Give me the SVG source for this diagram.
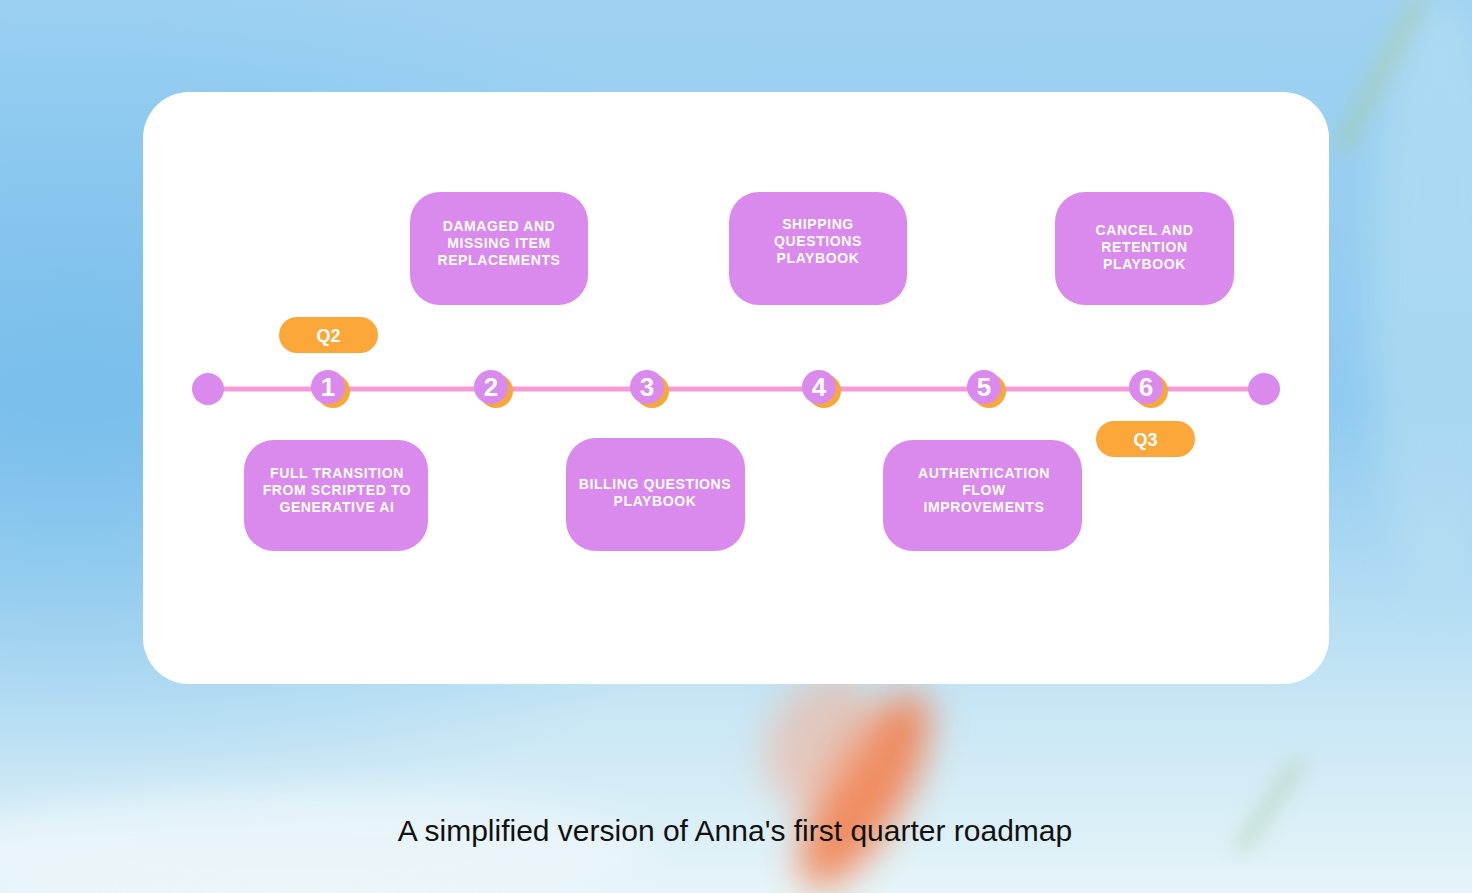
<svg xmlns="http://www.w3.org/2000/svg" width="1472" height="893" viewBox="0 0 1472 893">
<defs>
<linearGradient id="bg" x1="0" y1="0" x2="0" y2="1">
<stop offset="0" stop-color="#9fd2f2"/>
<stop offset="0.45" stop-color="#8fcaf0"/>
<stop offset="0.8" stop-color="#c9e7f5"/>
<stop offset="1" stop-color="#e6f4f8"/>
</linearGradient>
<radialGradient id="bl" cx="0.05" cy="0.45" r="0.5">
<stop offset="0" stop-color="#6fb9ea" stop-opacity="0.7"/>
<stop offset="1" stop-color="#6fb9ea" stop-opacity="0"/>
</radialGradient>
<filter id="blur" x="-50%" y="-50%" width="200%" height="200%"><feGaussianBlur stdDeviation="18"/></filter>
<filter id="blur2" x="-50%" y="-50%" width="200%" height="200%"><feGaussianBlur stdDeviation="10"/></filter>
<style>
.box{fill:#d98aec}
.bt{font-family:"Liberation Sans",Arial,sans-serif;font-weight:bold;font-size:14px;fill:#ffffff;text-anchor:middle;letter-spacing:0.6px}
.num{font-family:"Liberation Sans",Arial,sans-serif;font-weight:bold;font-size:26px;fill:#ffffff;text-anchor:middle}
.pill{fill:#fba73a}
.pt{font-family:"Liberation Sans",Arial,sans-serif;font-weight:bold;font-size:18px;fill:#ffffff;text-anchor:middle}
.dot{fill:#d98aec}
.shd{fill:#f7a83a}
</style>
</defs>
<rect width="1472" height="893" fill="url(#bg)"/>
<rect width="1472" height="893" fill="url(#bl)"/>
<ellipse cx="1440" cy="300" rx="70" ry="300" fill="#b8e0f2" opacity="0.6" filter="url(#blur)"/>
<path d="M1340 150 L1420 0" stroke="#a8c98a" stroke-width="12" opacity="0.6" filter="url(#blur2)"/>
<path d="M1300 760 L1240 850" stroke="#a6c9a2" stroke-width="12" opacity="0.6" filter="url(#blur2)"/>
<ellipse cx="865" cy="790" rx="40" ry="110" transform="rotate(30 865 790)" fill="#f47a45" opacity="0.85" filter="url(#blur)"/>
<ellipse cx="820" cy="740" rx="50" ry="70" transform="rotate(30 820 740)" fill="#f6a88a" opacity="0.5" filter="url(#blur)"/>
<ellipse cx="300" cy="850" rx="350" ry="60" fill="#f0f8fb" opacity="0.6" filter="url(#blur)"/>

<rect id="card" x="143" y="92" width="1186" height="592" rx="46" fill="#ffffff"/>

<g id="connectors">
<line x1="208" y1="389" x2="1264" y2="389" stroke="#f59bd8" stroke-width="5"/>
</g>

<g id="start"><circle cx="208" cy="389" r="16" class="dot"/></g>
<g id="end"><circle cx="1264" cy="389" r="16" class="dot"/></g>

<g id="m1"><circle cx="333" cy="391" r="17" class="shd"/><circle cx="328" cy="387" r="17" class="dot"/><text x="328" y="396" class="num">1</text></g>
<g id="m2"><circle cx="496" cy="391" r="17" class="shd"/><circle cx="491" cy="387" r="17" class="dot"/><text x="491" y="396" class="num">2</text></g>
<g id="m3"><circle cx="652" cy="391" r="17" class="shd"/><circle cx="647" cy="387" r="17" class="dot"/><text x="647" y="396" class="num">3</text></g>
<g id="m4"><circle cx="824" cy="391" r="17" class="shd"/><circle cx="819" cy="387" r="17" class="dot"/><text x="819" y="396" class="num">4</text></g>
<g id="m5"><circle cx="989" cy="391" r="17" class="shd"/><circle cx="984" cy="387" r="17" class="dot"/><text x="984" y="396" class="num">5</text></g>
<g id="m6"><circle cx="1151" cy="391" r="17" class="shd"/><circle cx="1146" cy="387" r="17" class="dot"/><text x="1146" y="396" class="num">6</text></g>

<g id="q2"><rect x="279" y="317" width="99" height="36" rx="18" class="pill"/><text x="328.5" y="342" class="pt">Q2</text></g>
<g id="q3"><rect x="1096" y="421" width="99" height="36" rx="18" class="pill"/><text x="1145.5" y="446" class="pt">Q3</text></g>

<g id="damaged"><rect x="410" y="192" width="178" height="113" rx="30" class="box"/>
<text class="bt" x="499" y="231">DAMAGED AND</text><text class="bt" x="499" y="248">MISSING ITEM</text><text class="bt" x="499" y="265">REPLACEMENTS</text></g>

<g id="shipping"><rect x="729" y="192" width="178" height="113" rx="30" class="box"/>
<text class="bt" x="818" y="229">SHIPPING</text><text class="bt" x="818" y="246">QUESTIONS</text><text class="bt" x="818" y="263">PLAYBOOK</text></g>

<g id="cancel"><rect x="1055" y="192" width="179" height="113" rx="30" class="box"/>
<text class="bt" x="1144.5" y="235">CANCEL AND</text><text class="bt" x="1144.5" y="252">RETENTION</text><text class="bt" x="1144.5" y="269">PLAYBOOK</text></g>

<g id="full"><rect x="244" y="440" width="184" height="111" rx="30" class="box"/>
<text class="bt" x="337" y="478">FULL TRANSITION</text><text class="bt" x="337" y="495">FROM SCRIPTED TO</text><text class="bt" x="337" y="512">GENERATIVE AI</text></g>

<g id="billing"><rect x="566" y="438" width="179" height="113" rx="30" class="box"/>
<text class="bt" x="655" y="489">BILLING QUESTIONS</text><text class="bt" x="655" y="506">PLAYBOOK</text></g>

<g id="auth"><rect x="883" y="440" width="199" height="111" rx="30" class="box"/>
<text class="bt" x="984" y="478">AUTHENTICATION</text><text class="bt" x="984" y="495">FLOW</text><text class="bt" x="984" y="512">IMPROVEMENTS</text></g>

<text x="735" y="841" font-family="'Liberation Sans',Arial,sans-serif" font-size="30" fill="#111111" text-anchor="middle">A simplified version of Anna's first quarter roadmap</text>
</svg>
